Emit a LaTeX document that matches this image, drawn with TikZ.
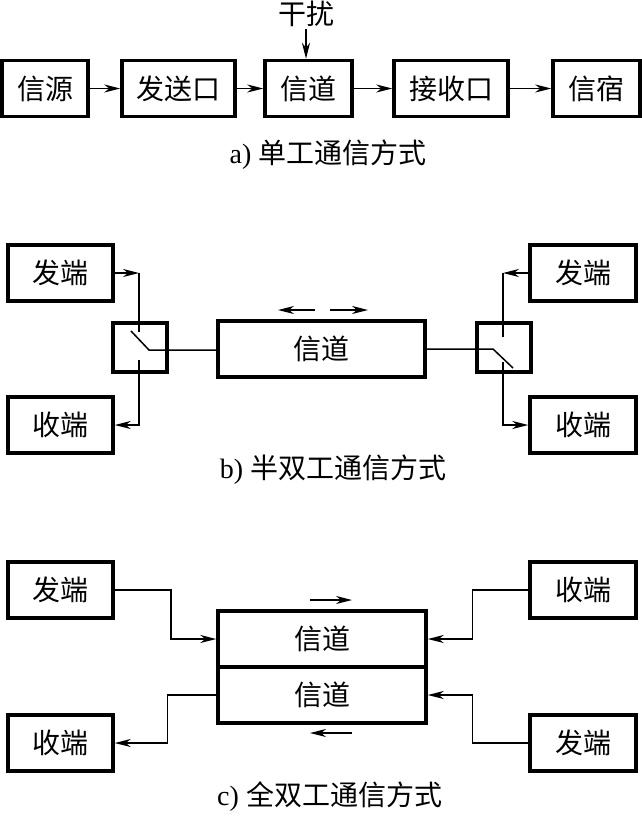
\documentclass[tikz,border=0pt]{standalone}
\usepackage{fontspec}
\setmainfont{Liberation Serif}
\newfontfamily\cjk{Noto Sans CJK SC}
\usetikzlibrary{arrows.meta}
\tikzset{
  blk/.style={draw,line width=3.5pt,minimum width=#1,minimum height=56pt,
    inner sep=0pt,font=\cjk\fontsize{28}{28}\selectfont},
  blk/.default=105pt,
  swbox/.style={draw,line width=3.5pt,minimum width=54pt,minimum height=49pt,inner sep=0pt},
  wire/.style={line width=1.5pt},
  arr/.style={wire,-{Stealth[length=16pt,width=8pt,inset=5pt]}},
  captxt/.style={font=\fontsize{28}{28}\selectfont,inner sep=2pt},
}
\begin{document}
\begin{tikzpicture}[x=1pt,y=-1pt]
\useasboundingbox (0,0) rectangle (642,817);
% a) simplex
\node[blk=86pt] (src) at (45,88.5) {信源};
\node[blk=113pt] (send) at (178.5,88.5) {发送口};
\node[blk=87pt] (chan) at (308.5,88.5) {信道};
\node[blk=114pt] (recv) at (451,88.5) {接收口};
\node[blk=87pt] (sink) at (596.5,88.5) {信宿};
\foreach \a/\b in {src/send,send/chan,chan/recv,recv/sink}
    \draw[arr] (\a) -- (\b);
\node[captxt,font=\cjk\fontsize{28}{28}\selectfont] (noise) at (306,14) {干扰};
\draw[arr] (noise.south) -- (noise.south |- chan.north);
\node[captxt] (capa) at (328,155) {a) {\cjk 单工通信方式}};
% b) half duplex
\node[blk] (ltx) at (60.5,273) {发端};
\node[blk] (lrx) at (60.5,425) {收端};
\node[swbox] (lsw) at (140,347.5) {};
\node[blk=207pt] (chanb) at (321.5,349) {信道};
\node[swbox] (rsw) at (504,347.5) {};
\node[blk=106pt] (rtx) at (583,273) {发端};
\node[blk=106pt] (rrx) at (583,425) {收端};
\coordinate (lup) at (139,332);
\coordinate (llo) at (139,360);
\coordinate (ltip) at (131,331);
\coordinate (lpiv) at (149,350);
\coordinate (rup) at (503,337);
\coordinate (rlo) at (503,362);
\coordinate (rpiv) at (493,349);
\coordinate (rtip) at (513,368);
\draw[arr] (ltx.east) -- (lup |- ltx.east);
\draw[wire] (lup |- ltx.east) -- (lup);
\draw[arr] (llo) |- (lrx.east);
\draw[wire] (ltip) -- (lpiv) -- (lpiv -| chanb.west);
\draw[arr] (rtx.west) -- (rup |- rtx.west);
\draw[wire] (rup |- rtx.west) -- (rup);
\draw[arr] (rlo) |- (rrx.west);
\draw[wire] (chanb.east) -- (rpiv) -- (rtip);
\draw[arr] (315,310) -- (278,310);
\draw[arr] (330,310) -- (368,310);
\node[captxt] (capb) at (333,470) {b) {\cjk 半双工通信方式}};
% c) full duplex
\node[blk] (ltx2) at (60.5,590) {发端};
\node[blk] (lrx2) at (60.5,743) {收端};
\node[blk=106pt] (rrx2) at (583,590) {收端};
\node[blk=106pt] (rtx2) at (583,743) {发端};
\node[blk=208pt] (chu) at (322,639) {信道};
\node[blk=208pt] (chd) at (322,695) {信道};
\draw[arr] (ltx2.east) -- ++(56,0) |- (chu.west);
\draw[arr] (chd.west) -- ++(-49,0) |- (lrx2.east);
\draw[arr] (rrx2.west) -- ++(-56,0) |- (chu.east);
\draw[arr] (rtx2.west) -- ++(-56,0) |- (chd.east);
\draw[arr] (310,600) -- (352,600);
\draw[arr] (352,733) -- (310,733);
\node[captxt] (capc) at (330,797) {c)\hspace{8pt}{\cjk 全双工通信方式}};
\end{tikzpicture}
\end{document}
